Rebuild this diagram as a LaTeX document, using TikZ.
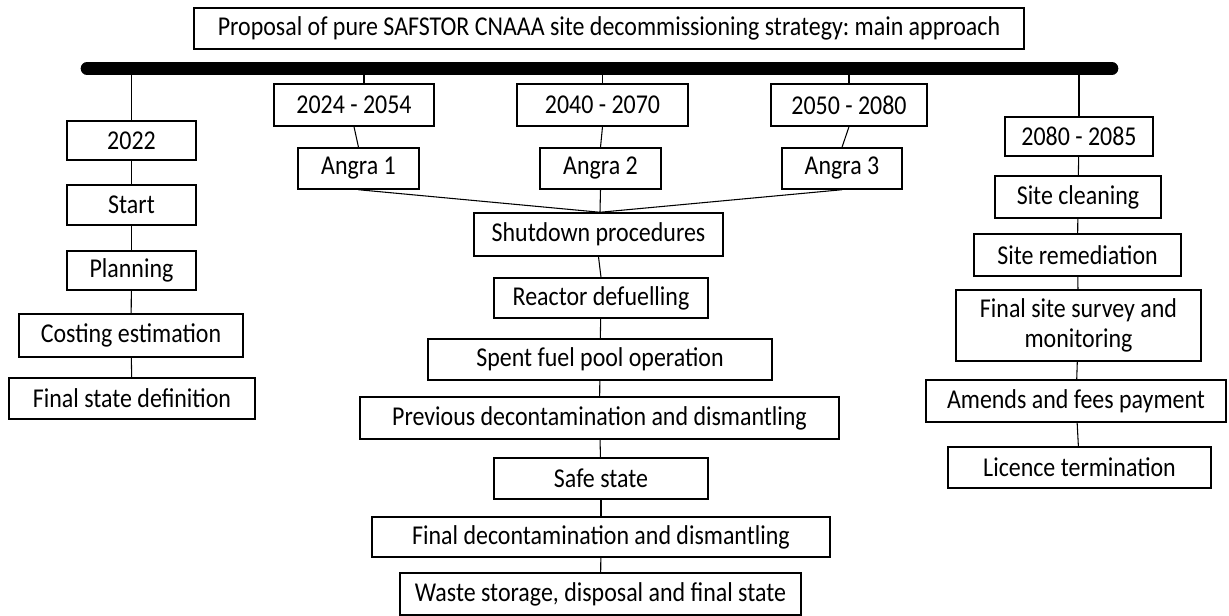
\documentclass[tikz,border=0pt]{standalone}
\usepackage{fontspec}
\setmainfont{Carlito}[FakeStretch=0.88]
\usetikzlibrary{calc}
\frenchspacing
\tikzset{
  box/.style={draw=black, line width=1.1pt, inner sep=0pt, align=center,
    font=\fontsize{20.4}{22.5}\selectfont},
  link/.style={draw=black, line width=0.8pt},
  busbar/.style={draw=black, line width=9.5pt, line cap=round}
}
\begin{document}
\begin{tikzpicture}[x=0.75pt,y=-0.75pt]
\useasboundingbox (0,0) rectangle (1229,616);
% title
\node[box, minimum width=830*0.75pt, minimum height=41*0.75pt] (title) at (609,28.5) {Proposal of pure SAFSTOR CNAAA site decommissioning strategy: main approach};
% bar
\coordinate (barL) at (87,68.5);
\coordinate (barR) at (1112,68.5);
% left column
\node[box, minimum width=129*0.75pt, minimum height=39*0.75pt] (y2022) at (131.5,140.5) {2022};
\node[box, minimum width=129*0.75pt, minimum height=40*0.75pt] (start) at (131.5,205) {Start};
\node[box, minimum width=129*0.75pt, minimum height=39*0.75pt] (planning) at (131.5,270.5) {Planning};
\node[box, minimum width=224*0.75pt, minimum height=43*0.75pt] (costing) at (131,335.5) {Costing estimation};
\node[box, minimum width=246*0.75pt, minimum height=41*0.75pt] (finalstate) at (132,398.5) {Final state definition};
% middle
\node[box, minimum width=160*0.75pt, minimum height=42*0.75pt] (y2024) at (354,105) {2024 - 2054};
\node[box, minimum width=121*0.75pt, minimum height=41*0.75pt] (angra1) at (358.5,168.5) {Angra 1};
\node[box, minimum width=171*0.75pt, minimum height=42*0.75pt] (y2040) at (602.5,105) {2040 - 2070};
\node[box, minimum width=121*0.75pt, minimum height=41*0.75pt] (angra2) at (600.5,168.5) {Angra 2};
\node[box, minimum width=156*0.75pt, minimum height=42*0.75pt] (y2050) at (849,105) {2050 - 2080};
\node[box, minimum width=120*0.75pt, minimum height=41*0.75pt] (angra3) at (842,168.5) {Angra 3};
\node[box, minimum width=249*0.75pt, minimum height=43*0.75pt] (shutdown) at (598.5,234.5) {Shutdown procedures};
\node[box, minimum width=214*0.75pt, minimum height=40*0.75pt] (reactor) at (601,298) {Reactor defuelling};
\node[box, minimum width=344*0.75pt, minimum height=41*0.75pt] (spent) at (600,359.5) {Spent fuel pool operation};
\node[box, minimum width=479*0.75pt, minimum height=42*0.75pt] (previous) at (599.5,418) {Previous decontamination and dismantling};
\node[box, minimum width=214*0.75pt, minimum height=41*0.75pt] (safe) at (601,478.5) {Safe state};
\node[box, minimum width=458*0.75pt, minimum height=40*0.75pt] (finaldec) at (601,537) {Final decontamination and dismantling};
\node[box, minimum width=401*0.75pt, minimum height=42*0.75pt] (waste) at (600.5,594) {Waste storage, disposal and final state};
% right column
\node[box, minimum width=148*0.75pt, minimum height=39*0.75pt] (y2080) at (1079,136.5) {2080 - 2085};
\node[box, minimum width=166*0.75pt, minimum height=42*0.75pt] (cleaning) at (1078,197) {Site cleaning};
\node[box, minimum width=207*0.75pt, minimum height=42*0.75pt] (remed) at (1077.5,255) {Site remediation};
\node[box, minimum width=245*0.75pt, minimum height=71*0.75pt] (survey) at (1078.5,325.5) {Final site survey and\\monitoring};
\node[box, minimum width=300*0.75pt, minimum height=42*0.75pt] (amends) at (1076,401) {Amends and fees payment};
\node[box, minimum width=263*0.75pt, minimum height=41*0.75pt] (licence) at (1079.5,467.5) {Licence termination};
% bar
\draw[busbar] (barL) -- (barR);
% connectors from bar
\draw[link] (y2022.north) -- (y2022.north |- barL);
\draw[link] ($(y2024.north)+(10,0)$) -- ($(y2024.north |- barL)+(10,0)$);
\draw[link] (y2040.north) -- (y2040.north |- barL);
\draw[link] (y2050.north) -- (y2050.north |- barL);
\draw[link] (y2080.north) -- (y2080.north |- barL);
% left chain
\draw[link] (y2022) -- (start);
\draw[link] (start) -- (planning);
\draw[link] (planning) -- (costing);
\draw[link] (costing) -- (finalstate);
% middle
\draw[link] (y2024.south) -- (angra1.north);
\draw[link] (y2040.south) -- (angra2.north);
\draw[link] (y2050.south) -- (angra3.north);
\coordinate (meet) at ($(shutdown.north)+(1.5,0)$);
\draw[link] (angra1.south) -- (meet);
\draw[link] (angra2.south) -- (meet);
\draw[link] (angra3.south) -- (meet);
\draw[link] (shutdown.south) -- (reactor.north);
\draw[link] (reactor) -- (spent);
\draw[link] (spent) -- (previous);
\draw[link] (previous) -- (safe);
\draw[link] (safe) -- (finaldec);
\draw[link] (finaldec) -- (waste);
% right chain
\draw[link] (y2080) -- (cleaning);
\draw[link] (cleaning) -- (remed);
\draw[link] (remed) -- (survey);
\draw[link] (survey) -- (amends);
\draw[link] (amends) -- (licence);
\end{tikzpicture}
\end{document}
